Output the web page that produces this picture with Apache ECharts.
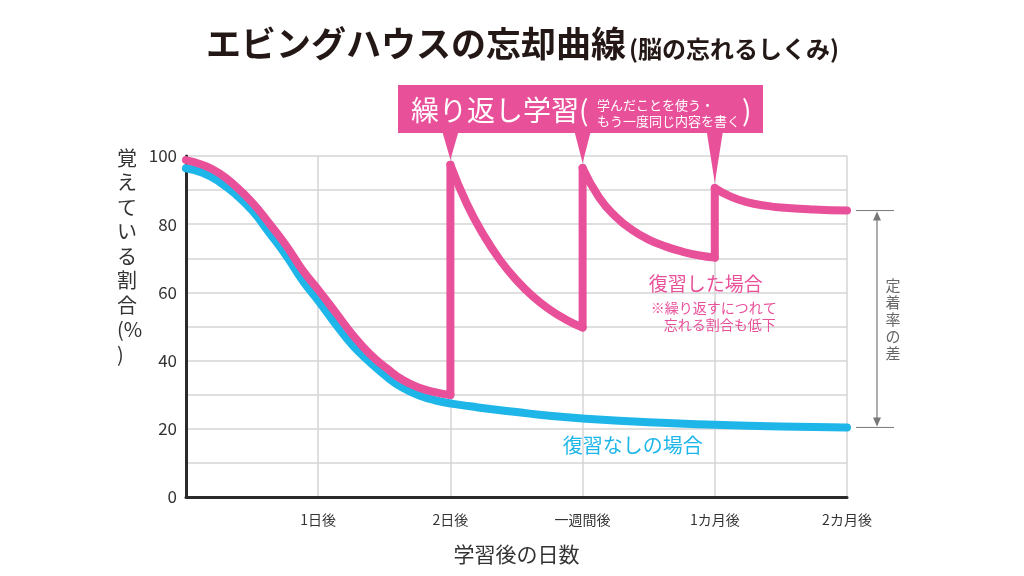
<!DOCTYPE html>
<html>
<head>
<meta charset="utf-8">
<script src="https://cdn.jsdelivr.net/npm/echarts@6/dist/echarts.min.js"></script>
<style>
html,body{margin:0;padding:0;background:#fff;}
#main{width:1024px;height:576px;}
</style>
</head>
<body>
<div id="main"></div>
<script>
// ---- data ----
const xTickLabels = ['', '1日後', '2日後', '一週間後', '1カ月後', '2カ月後'];
const yTickLabels = [0, 20, 40, 60, 80, 100];
const titleMain = 'エビングハウスの忘却曲線';
const titleSub = '(脳の忘れるしくみ)';
const xAxisName = '学習後の日数';
const yAxisName = ['覚', 'え', 'て', 'い', 'る', '割', '合', '(%', ')'];
const calloutMain = '繰り返し学習(';
const calloutSub = ['学んだことを使う・', 'もう一度同じ内容を書く'];
const calloutClose = ')';
const pinkLabel = ['復習した場合', '※繰り返すにつれて', '忘れる割合も低下'];
const blueLabel = '復習なしの場合';
const gapLabel = '定着率の差';

// x: 0 = 学習直後, 1 = 1日後, 2 = 2日後, 3 = 一週間後, 4 = 1カ月後, 5 = 2カ月後
const blueCurve = [[0,96.4],[0.126,95.1],[0.25,92.5],[0.38,88.6],[0.505,83.8],[0.63,77.5],[0.76,70.7],[0.88,63.6],[1.01,57.1],[1.14,50.3],[1.26,44.5],[1.39,39.6],[1.52,35.2],[1.64,32],[1.77,29.7],[1.89,28.3],[2.02,27.3],[2.15,26.6],[2.3,25.8],[2.5,24.9],[2.75,23.8],[3,23],[3.5,21.9],[4,21.2],[4.5,20.7],[5,20.4]];
const pinkInitial = [[0,98.8],[0.126,97.4],[0.25,95],[0.38,91],[0.505,86.2],[0.63,80.2],[0.76,73.6],[0.88,66.6],[1.01,60.3],[1.14,53.7],[1.26,47.6],[1.39,42],[1.52,37.7],[1.64,34.3],[1.77,32],[1.89,30.7],[2,29.9]];
const pinkReview1 = [[2,97.4],[2.125,85.9],[2.25,76.9],[2.375,69.5],[2.5,63.6],[2.625,58.8],[2.75,55],[2.875,52],[3,49.7]];
const pinkReview2 = [[3,96.5],[3.125,87.8],[3.25,82.2],[3.375,78.3],[3.5,75.5],[3.625,73.5],[3.75,72],[3.875,70.9],[4,70.2]];
const pinkReview3 = [[4,90.6],[4.125,88],[4.25,86.4],[4.375,85.5],[4.5,84.9],[4.75,84.3],[5,84.0]];

const PINK = '#E9509A';
const BLUE = '#1EB6E9';
const FONT = '"Noto Sans CJK JP", "Noto Sans", sans-serif';

const chart = echarts.init(document.getElementById('main'), null, {renderer: 'canvas'});

function lineSeries(data, color, smooth, z) {
  return {
    type: 'line', data: data, smooth: smooth, showSymbol: false, symbol: 'none',
    lineStyle: {color: color, width: 8, cap: 'round', join: 'round'},
    z: z, silent: true
  };
}
const reviews = [pinkReview1, pinkReview2, pinkReview3];
const prevs = [pinkInitial, pinkReview1, pinkReview2];
const jumpSeries = reviews.map((r, i) => lineSeries([prevs[i][prevs[i].length - 1], r[0]], PINK, false, 3));

const option = {
  animation: false,
  backgroundColor: '#fff',
  title: {
    left: 201, top: 10,
    text: '{a|' + titleMain + '}{b|' + titleSub + '}',
    textStyle: {
      rich: {
        a: {fontSize: 35, fontWeight: 'bold', color: '#231815', fontFamily: FONT, verticalAlign: 'bottom', lineHeight: 46},
        b: {fontSize: 24, fontWeight: 'bold', color: '#231815', fontFamily: FONT, verticalAlign: 'bottom', lineHeight: 40, padding: [0,0,0,3]}
      }
    }
  },
  grid: {left: 186, right: 177, top: 156, bottom: 79, containLabel: false},
  xAxis: {
    type: 'value', min: 0, max: 5, interval: 1,
    name: xAxisName, nameLocation: 'middle', nameGap: 47,
    nameTextStyle: {fontSize: 21, color: '#333', fontFamily: FONT},
    axisLine: {show: true, onZero: false, lineStyle: {color: '#2a2a2a', width: 3}},
    axisTick: {show: false},
    axisLabel: {
      formatter: v => xTickLabels[Math.round(v)] || '',
      fontSize: 14, color: '#333', fontFamily: FONT, margin: 16
    },
    splitLine: {show: true, lineStyle: {color: '#d4d4d4', width: 1.5}}
  },
  yAxis: {
    type: 'value', min: 0, max: 100, interval: 10,
    axisLine: {show: true, lineStyle: {color: '#2a2a2a', width: 3}},
    axisTick: {show: false},
    axisLabel: {
      formatter: v => (yTickLabels.indexOf(v) >= 0 ? String(v) : ''),
      fontSize: 17, color: '#333', fontFamily: FONT, margin: 9
    },
    splitLine: {show: true, lineStyle: {color: '#d4d4d4', width: 1.5}}
  },
  series: [
    lineSeries(blueCurve, BLUE, 0.5, 2),
    lineSeries(pinkInitial, PINK, 0.5, 3),
    lineSeries(pinkReview1, PINK, 0.5, 3),
    lineSeries(pinkReview2, PINK, 0.5, 3),
    lineSeries(pinkReview3, PINK, 0.5, 3)
  ].concat(jumpSeries)
};
chart.setOption(option);

// ---- annotations positioned through the chart's own scales ----
const px = p => chart.convertToPixel({gridIndex: 0}, p);
const graphics = [];

// y axis name (vertical)
graphics.push({
  type: 'text', left: 117, top: 146,
  style: {text: yAxisName.join('\n'), font: '20px ' + FONT, fill: '#333', lineHeight: 24.5, align: 'left'}
});

// callout box
const boxTop = 85, boxBottom = 133, boxLeft = 398, boxRight = 763;
graphics.push({type: 'rect', shape: {x: boxLeft, y: boxTop, width: boxRight - boxLeft, height: boxBottom - boxTop}, style: {fill: PINK}, z: 10});
reviews.forEach(r => {
  const tip = px(r[0]);
  graphics.push({
    type: 'polygon', z: 10,
    shape: {points: [[tip[0] - 8, boxBottom - 1], [tip[0] + 8, boxBottom - 1], [tip[0], tip[1] - 5]]},
    style: {fill: PINK}
  });
});
graphics.push({type: 'text', z: 11, x: 411, y: 110, style: {text: calloutMain, font: '28px ' + FONT, fill: '#fff', verticalAlign: 'middle'}});
graphics.push({type: 'text', z: 11, x: 597, y: 105, style: {text: calloutSub[0], font: '13px ' + FONT, fill: '#fff', verticalAlign: 'middle'}});
graphics.push({type: 'text', z: 11, x: 597, y: 121, style: {text: calloutSub[1], font: '13px ' + FONT, fill: '#fff', verticalAlign: 'middle'}});
graphics.push({type: 'text', z: 11, x: 742, y: 110, style: {text: calloutClose, font: '28px ' + FONT, fill: '#fff', verticalAlign: 'middle'}});

// pink label
const pl = px([3.5, 62]);
graphics.push({type: 'text', x: pl[0], y: pl[1] - 2, style: {text: pinkLabel[0], font: '19px ' + FONT, fill: PINK, verticalAlign: 'middle'}});
graphics.push({type: 'text', x: pl[0] + 2, y: pl[1] + 22, style: {text: pinkLabel[1], font: '14px ' + FONT, fill: PINK, verticalAlign: 'middle'}});
graphics.push({type: 'text', x: pl[0] + 15, y: pl[1] + 39, style: {text: pinkLabel[2], font: '14px ' + FONT, fill: PINK, verticalAlign: 'middle'}});

// blue label
const bl = px([3.38, 15]);
graphics.push({type: 'text', x: bl[0], y: bl[1], style: {text: blueLabel, font: '20px ' + FONT, fill: BLUE, align: 'center', verticalAlign: 'middle'}});

// gap bracket on the right
const pEnd = px(pinkReview3[pinkReview3.length - 1]);
const bEnd = px(blueCurve[blueCurve.length - 1]);
const gx0 = pEnd[0] + 9, gx1 = pEnd[0] + 47, gxm = pEnd[0] + 30;
const GREY = '#777';
graphics.push({type: 'line', shape: {x1: gx0, y1: pEnd[1], x2: gx1, y2: pEnd[1]}, style: {stroke: GREY, lineWidth: 1}});
graphics.push({type: 'line', shape: {x1: gx0, y1: bEnd[1], x2: gx1, y2: bEnd[1]}, style: {stroke: GREY, lineWidth: 1}});
graphics.push({type: 'line', shape: {x1: gxm, y1: pEnd[1] + 6, x2: gxm, y2: bEnd[1] - 6}, style: {stroke: GREY, lineWidth: 1.2}});
graphics.push({type: 'polygon', shape: {points: [[gxm, pEnd[1] + 1], [gxm - 4, pEnd[1] + 10], [gxm + 4, pEnd[1] + 10]]}, style: {fill: GREY}});
graphics.push({type: 'polygon', shape: {points: [[gxm, bEnd[1] - 1], [gxm - 4, bEnd[1] - 10], [gxm + 4, bEnd[1] - 10]]}, style: {fill: GREY}});
const gm = (pEnd[1] + bEnd[1]) / 2;
graphics.push({type: 'text', x: gxm + 16, y: gm, style: {text: gapLabel.split('').join('\n'), font: '15px ' + FONT, fill: '#666', align: 'center', verticalAlign: 'middle', lineHeight: 17}});

chart.setOption({graphic: graphics});
</script>
</body>
</html>
